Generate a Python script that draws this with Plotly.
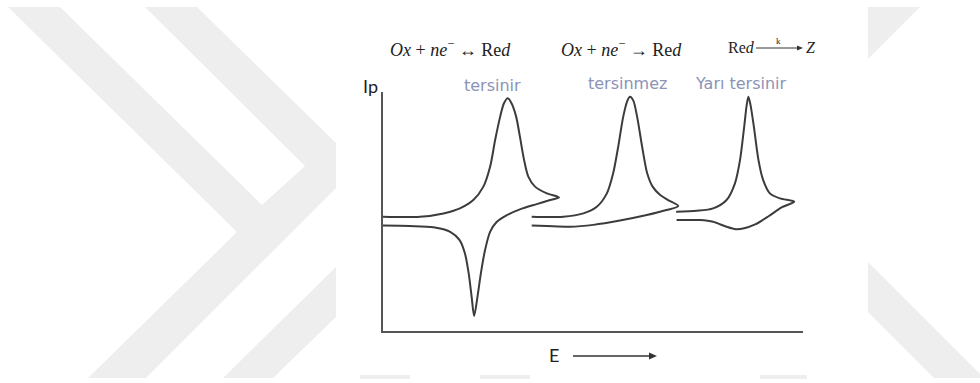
import plotly.graph_objects as go

# Values: E (arbitrary units, 0-100) and Ip (arbitrary units, 0-100)
# tersinir (reversible): forward sweep then return sweep
E_tersinir_fwd = [0, 8.8, 14.4, 18.3, 21.5, 23.9, 25.5, 26.7, 27.9, 28.8, 29.7, 30.6, 31.7, 32.6, 33.6, 34.6, 36.2, 39.0, 41.9]
I_tersinir_fwd = [47.8, 47.8, 49.2, 51.3, 54.8, 60.4, 68.7, 79.9, 89.7, 95.3, 97.4, 95.3, 89.7, 81.3, 71.5, 64.6, 60.4, 57.6, 55.9]
E_tersinir_rev = [39.8, 36.6, 32.6, 29.5, 27.1, 25.5, 24.3, 23.3, 22.5, 21.7, 21.1, 20.4, 19.5, 18.2, 16.0, 12.0, 6.4, 0]
I_tersinir_rev = [54.8, 53.1, 50.9, 48.5, 45.7, 41.5, 33.9, 24.1, 14.4, 6.3, 14.4, 24.1, 32.5, 38.1, 41.5, 43.4, 43.9, 44.1]

# tersinmez (irreversible)
E_tersinmez_fwd = [35.4, 42.9, 47.7, 50.9, 53.3, 54.8, 56.0, 57.2, 58.2, 58.8, 59.6, 60.5, 61.7, 62.9, 64.2, 66.0, 67.9, 70.3]
I_tersinmez_fwd = [47.8, 47.8, 49.2, 52.0, 57.6, 66.0, 77.1, 89.7, 96.4, 98.0, 96.4, 89.7, 77.1, 66.0, 60.4, 56.9, 54.8, 52.3]
E_tersinmez_rev = [67.5, 62.8, 56.4, 50.1, 44.5, 39.0, 35.4]
I_tersinmez_rev = [50.6, 48.5, 46.2, 44.4, 43.6, 43.9, 44.1]

# Yari tersinir (quasi-reversible)
E_yari_fwd = [69.8, 74.7, 78.6, 81.8, 83.8, 85.0, 86.0, 86.6, 87.0, 87.5, 88.3, 89.4, 90.5, 92.1, 94.5, 97.9]
I_yari_fwd = [49.9, 50.3, 51.3, 54.8, 61.8, 71.5, 85.5, 94.6, 98.0, 94.6, 85.5, 71.5, 63.2, 57.6, 55.5, 54.1]
E_yari_rev = [95.0, 91.8, 88.6, 86.0, 84.0, 81.8, 78.6, 75.5, 69.9]
I_yari_rev = [51.8, 48.0, 44.6, 43.0, 42.6, 43.6, 45.7, 46.4, 46.4]

curve_labels = ["tersinir", "tersinmez", "Yarı tersinir"]

# page geometry (pixels) of the plotting frame
W, H = 980, 383
FRAME_L, FRAME_R, FRAME_T, FRAME_B = 383, 803, 92, 331


def px(x, y):
    """pixel position on the page -> paper coordinates"""
    return (x - FRAME_L) / (FRAME_R - FRAME_L), (FRAME_B - y) / (FRAME_B - FRAME_T)


def poly_path(points, close=True):
    parts = []
    for i, (x, y) in enumerate(points):
        X, Y = px(x, y)
        parts.append(f"{'M' if i == 0 else 'L'} {X:.4f},{Y:.4f}")
    return " ".join(parts) + (" Z" if close else "")


def AddText(fig, text, x, y, size, color="#222222", family="Liberation Serif"):
    X, Y = px(x, y)
    fig.add_annotation(x=X, y=Y, xref="paper", yref="paper", text=text, showarrow=False,
                       xanchor="center", yanchor="middle",
                       font=dict(size=size, color=color, family=family))


def AddArrow(fig, x0, x1, y, width=1.5, head=8, half=3.5):
    """horizontal arrow drawn with shapes, pointing right"""
    fig.add_shape(type="path", path=poly_path([(x0, y), (x1 - head + 1, y)], close=False),
                  xref="paper", yref="paper", line=dict(color="#333333", width=width))
    fig.add_shape(type="path", path=poly_path([(x1 - head, y - half), (x1, y), (x1 - head, y + half)]),
                  xref="paper", yref="paper", fillcolor="#333333", line=dict(width=0))


fig = go.Figure()

# watermark behind the scanned figure
watermark = [
    [(8, 7), (60, 7), (262, 205), (305, 166), (145, 7), (197, 7), (336, 143), (336, 188),
     (146, 378), (88, 378), (237, 232)],
    [(336, 267), (336, 317), (273, 378), (223, 378)],
    [(868, 7), (920, 7), (868, 59)],
    [(868, 262), (980, 374), (980, 378), (934, 378), (868, 312)],
    [(360, 360), (410, 360), (410, 379), (360, 379)],
    [(480, 360), (530, 360), (530, 379), (480, 379)],
    [(760, 360), (807, 360), (807, 379), (760, 379)],
]
for poly in watermark:
    fig.add_shape(type="path", path=poly_path(poly), xref="paper", yref="paper",
                  fillcolor="#eeeeee", line=dict(width=0), layer="below")

x0, y1 = px(336, 0)
x1, y0 = px(868, 375)
fig.add_shape(type="rect", xref="paper", yref="paper", x0=x0, x1=x1, y0=y0, y1=y1,
              fillcolor="white", line=dict(width=0), layer="below")

series = [
    (E_tersinir_fwd + E_tersinir_rev, I_tersinir_fwd + I_tersinir_rev),
    (E_tersinmez_fwd + E_tersinmez_rev, I_tersinmez_fwd + I_tersinmez_rev),
    (E_yari_fwd + E_yari_rev, I_yari_fwd + I_yari_rev),
]
for (e, i), name in zip(series, curve_labels):
    fig.add_trace(go.Scatter(x=e, y=i, mode="lines", name=name,
                             line=dict(color="#3c3c3c", width=2, shape="spline", smoothing=0.8)))

# reaction equations
AddText(fig, "<i>Ox</i> + <i>ne</i><sup>−</sup> ↔ Re<i>d</i>", 450, 49, 18)
AddText(fig, "<i>Ox</i> + <i>ne</i><sup>−</sup> → Re<i>d</i>", 621, 49, 18)
AddText(fig, "Re<i>d</i>", 741, 48, 16)
AddArrow(fig, 756, 803, 48, width=1, head=6, half=2.5)
AddText(fig, "k", 778, 41, 9)
AddText(fig, "<i>Z</i>", 811, 48, 16)

# curve labels
label_pos = [(492, 85), (627, 84), (741, 84)]
for name, (x, y) in zip(curve_labels, label_pos):
    AddText(fig, name, x, y, 16, color="#8c93b6", family="DejaVu Sans")

# axis names
AddText(fig, "Ip", 370, 86, 18, family="Lato")
AddText(fig, "E", 554, 355, 18, family="Lato")
AddArrow(fig, 573, 657, 356)

axis_style = dict(showline=True, linecolor="#555555", linewidth=2, showgrid=False,
                  zeroline=False, showticklabels=False, ticks="", fixedrange=True)
fig.update_layout(
    width=W, height=H,
    margin=dict(l=FRAME_L, r=W - FRAME_R, t=FRAME_T, b=H - FRAME_B, pad=0),
    xaxis=dict(range=[0, 100], **axis_style),
    yaxis=dict(range=[0, 100], **axis_style),
    showlegend=False,
    paper_bgcolor="white",
    plot_bgcolor="rgba(0,0,0,0)",
)

# drop the default page margin so the figure sits at the window's corner
fig.write_html("out.html", config={"displayModeBar": False},
               post_script="document.body.style.margin='0px';")
